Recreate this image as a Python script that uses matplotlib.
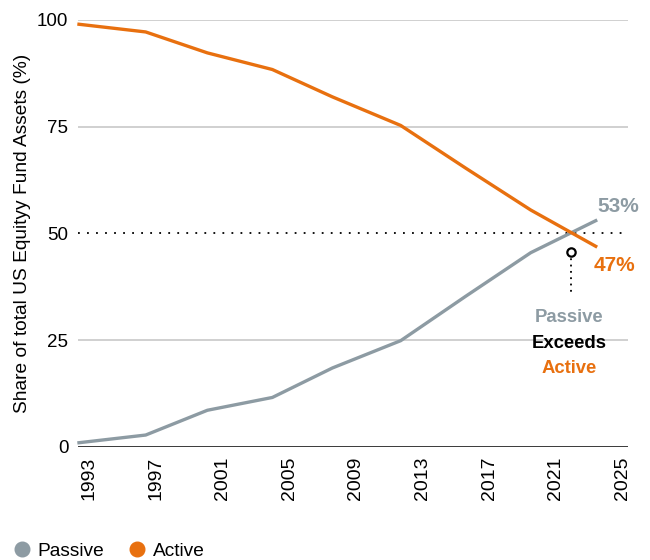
import matplotlib.pyplot as plt
from matplotlib.lines import Line2D

plt.rcParams['font.family'] = ['Liberation Sans', 'DejaVu Sans']

# Share of US equity fund assets, passive vs active
years = [1992.4, 1996.4, 2000.1, 2004.0, 2007.6, 2011.7, 2015.6, 2019.5, 2023.4]
passive = [1.0, 2.8, 8.6, 11.6, 18.5, 24.9, 35.3, 45.5, 53.0]
active = [99.0, 97.2, 92.3, 88.4, 82.0, 75.3, 65.3, 55.5, 47.0]
tick_years = list(range(1993, 2026, 4))
y_ticks = [0, 25, 50, 75, 100]
cross_year = 2021.9

grey = '#8d9ba3'
orange = '#e8700f'

fig = plt.figure(figsize=(6.5, 5.6), dpi=100)
ax = fig.add_axes([0.12, 0.2018, 0.846, 0.7625])

for y in [25, 75, 100]:
    ax.axhline(y, color='#c8c8c8', lw=1.2, zorder=1)
ax.axhline(50, color='black', lw=1.3, ls=(0, (1, 4)), zorder=1)
ax.axhline(0, color='black', lw=1.8, zorder=3)

ax.plot(years, passive, color=grey, lw=2.4, zorder=4, clip_on=False)
ax.plot(years, active, color=orange, lw=2.4, zorder=4, clip_on=False)

# marker where passive overtakes active
ax.plot([cross_year, cross_year], [45.6, 35.5], color='black', lw=1.3,
        ls=(0, (1, 2.5)), zorder=5)
ax.plot(cross_year, 45.6, 'o', ms=6, mfc='white', mec='black', mew=1.6, zorder=6)

ax.text(years[-1] + 0.1, passive[-1] + 3.3, f'{passive[-1]:.0f}%', color=grey,
        fontsize=15, fontweight='bold', ha='left', va='center')
ax.text(years[-1] - 0.1, active[-1] - 4.6, f'{active[-1]:.0f}%', color=orange,
        fontsize=15, fontweight='bold', ha='left', va='center')

ax.text(cross_year - 0.1, 30.3, 'Passive', color=grey, fontsize=13.3, fontweight='bold',
        ha='center', va='center', zorder=7)
ax.text(cross_year - 0.1, 24.3, 'Exceeds', color='black', fontsize=13.3, fontweight='bold',
        ha='center', va='center', zorder=7)
ax.text(cross_year - 0.1, 18.3, 'Active', color=orange, fontsize=13.3, fontweight='bold',
        ha='center', va='center', zorder=7)

ax.set_xlim(1992.34, 2025.33)
ax.set_ylim(0, 100)
ax.set_xticks(tick_years)
ax.set_xticklabels([str(y) for y in tick_years], rotation=90, fontsize=14)
ax.set_yticks(y_ticks)
ax.set_yticklabels([str(y) for y in y_ticks], fontsize=13.5)
ax.tick_params(axis='y', length=0, pad=7)
ax.tick_params(axis='x', length=0, pad=7)
for s in ax.spines.values():
    s.set_visible(False)
ax.set_ylabel('Share of total US Equityy Fund Assets (%)', fontsize=13.8, labelpad=4)

handles = [Line2D([], [], marker='o', ls='', ms=10.5, color=grey, label='Passive'),
           Line2D([], [], marker='o', ls='', ms=10.5, color=orange, label='Active')]
fig.legend(handles=handles, loc='lower left', bbox_to_anchor=(-0.008, -0.03), ncol=2,
           frameon=False, fontsize=13.8, handletextpad=0.3, columnspacing=1.25,
           handlelength=1.0)

fig.savefig('out.png', dpi=100)
